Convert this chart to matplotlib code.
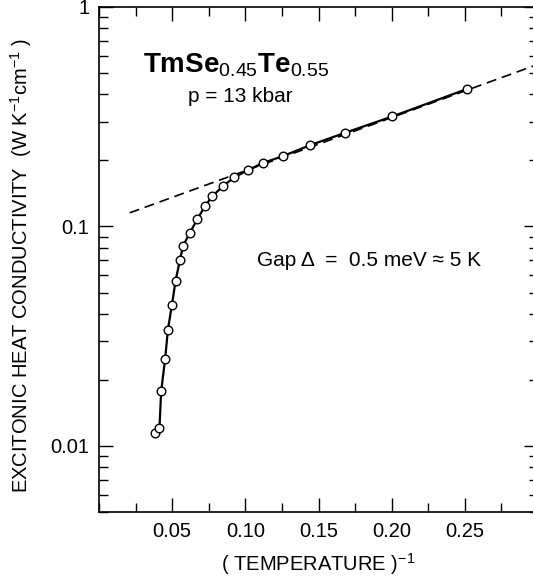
import matplotlib
matplotlib.use("Agg")
import matplotlib.pyplot as plt
from matplotlib.ticker import FixedLocator, LogLocator, NullFormatter, MultipleLocator

plt.rcParams['font.family'] = ['Liberation Sans', 'DejaVu Sans']
plt.rcParams['mathtext.fontset'] = 'custom'
plt.rcParams['mathtext.rm'] = 'Liberation Sans'
plt.rcParams['mathtext.it'] = 'Liberation Sans'
plt.rcParams['mathtext.bf'] = 'Liberation Sans:bold'

# inverse temperature (1/K) and excitonic heat conductivity (W/K cm)
inv_temp = [0.0384, 0.0413, 0.0425, 0.0452, 0.0471, 0.0498, 0.0523, 0.0553,
            0.0575, 0.0621, 0.0671, 0.0724, 0.0774, 0.0849, 0.0925, 0.1016,
            0.1121, 0.1257, 0.1440, 0.1678, 0.2005, 0.2518]
kappa = [0.01146, 0.01203, 0.01778, 0.02493, 0.0339, 0.04375, 0.0564, 0.0703,
         0.0817, 0.0936, 0.1076, 0.1237, 0.1373, 0.1531, 0.1675, 0.1803,
         0.1948, 0.2092, 0.2342, 0.2667, 0.3172, 0.4239]

# exponential extrapolation (dashed)
fit_x = [0.021, 0.300]
fit_y = [0.1154, 0.548]

x_ticks = [0.05, 0.10, 0.15, 0.20, 0.25]
x_tick_labels = ['0.05', '0.10', '0.15', '0.20', '0.25']
y_ticks = [0.01, 0.1, 1]
y_tick_labels = ['0.01', '0.1', '1']

fig = plt.figure(figsize=(5.33, 5.78), dpi=100)
# right edge of the frame falls just outside the picture, as in the original
ax = fig.add_axes([99 / 533, 66 / 578, 439 / 533, 505 / 578])

ax.plot(fit_x, fit_y, color='black', lw=1.2, dashes=(6, 3.5))
ax.plot(inv_temp, kappa, color='black', lw=1.6, marker='o', ms=6.2,
        mfc='white', mec='black', mew=1.0)

ax.set_yscale('log')
ax.set_xlim(0, 0.30)
ax.set_ylim(0.005, 1)

ax.xaxis.set_major_locator(FixedLocator(x_ticks))
ax.set_xticklabels(x_tick_labels)
ax.xaxis.set_minor_locator(MultipleLocator(0.025))
ax.yaxis.set_major_locator(FixedLocator(y_ticks))
ax.set_yticklabels(y_tick_labels)
ax.yaxis.set_minor_locator(LogLocator(base=10, subs=range(2, 10)))
ax.yaxis.set_minor_formatter(NullFormatter())

ax.tick_params(which='both', direction='in', top=True, right=True,
               width=1.0, labelsize=14.5, pad=7)
ax.tick_params(which='major', length=10)
ax.tick_params(which='minor', length=6.5)
for s in ax.spines.values():
    s.set_linewidth(1.2)

ax.set_ylabel('EXCITONIC HEAT CONDUCTIVITY  (W K$^{-1}$cm$^{-1}$ )', fontsize=14.5)
ax.yaxis.set_label_coords(-0.148, 0.487)
ax.set_xlabel('( TEMPERATURE )$^{-1}$', fontsize=14.5)
ax.xaxis.set_label_coords(0.5, -0.078)

ax.text(0.10, 0.871, r'$\mathbf{TmSe}_{0.45}\mathbf{Te}_{0.55}$', transform=ax.transAxes,
        fontsize=20, va='baseline', ha='left')
ax.text(0.203, 0.812, 'p = 13 kbar', transform=ax.transAxes,
        fontsize=15, va='baseline', ha='left')
ax.text(0.36, 0.499, 'Gap \u0394  =  0.5 meV \u2248 5 K', transform=ax.transAxes,
        fontsize=15, va='center', ha='left')

fig.savefig('out.png', dpi=100)
